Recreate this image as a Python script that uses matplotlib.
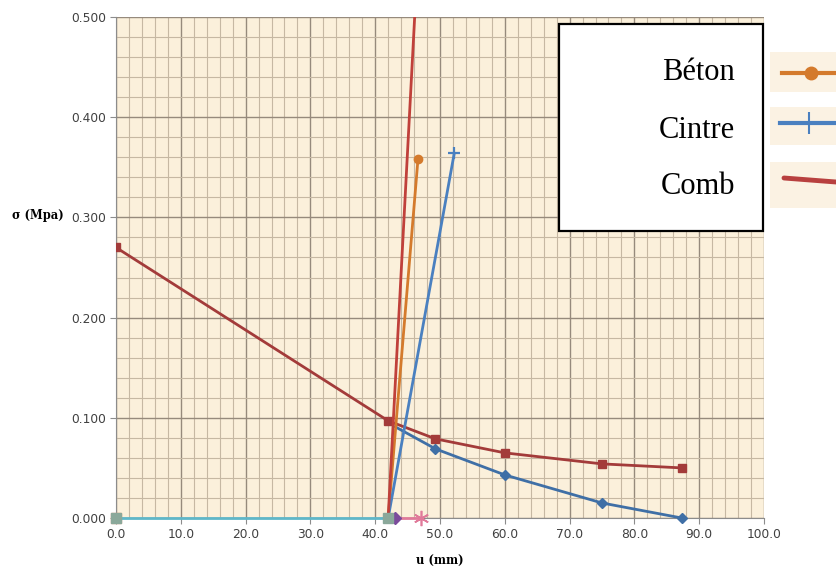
import matplotlib.pyplot as plt
from matplotlib.patches import Rectangle
from matplotlib.lines import Line2D
from matplotlib.ticker import MultipleLocator, FormatStrFormatter

# courbe caracteristique du massif (deux variantes)
u_massif = [0.0, 42.0, 49.3, 60.0, 75.0, 87.3]
s_massif = [0.270, 0.097, 0.079, 0.065, 0.054, 0.050]
u_massif2 = [43.1, 49.3, 60.0, 75.0, 87.3]
s_massif2 = [0.091, 0.069, 0.043, 0.015, 0.000]

# courbes de confinement
u_beton = [42.0, 46.6]
s_beton = [0.000, 0.358]
u_cintre = [42.0, 52.2]
s_cintre = [0.000, 0.364]
u_comb = [42.0, 46.5]
s_comb = [0.000, 0.550]

# points au niveau zero
u_base = [0.0, 42.0]
s_base = [0.0, 0.0]
u_rose = [42.0, 47.0]
s_rose = [0.0, 0.0]
u_violet = [42.0, 43.0]
s_violet = [0.0, 0.0]

legend_labels = ["Béton", "Cintre", "Comb"]

W, H = 836, 569
fig = plt.figure(figsize=(W / 100, H / 100), dpi=100)
fig.patch.set_facecolor("white")

left, right, top, bottom = 116, 764, 17, 518
ax = fig.add_axes([left / W, 1 - bottom / H, (right - left) / W, (bottom - top) / H])
ax.set_facecolor("#fbf0db")

ax.set_xlim(0, 100)
ax.set_ylim(0, 0.5)
ax.xaxis.set_major_locator(MultipleLocator(10))
ax.xaxis.set_minor_locator(MultipleLocator(2))
ax.yaxis.set_major_locator(MultipleLocator(0.1))
ax.yaxis.set_minor_locator(MultipleLocator(0.02))
ax.xaxis.set_major_formatter(FormatStrFormatter("%.1f"))
ax.yaxis.set_major_formatter(FormatStrFormatter("%.3f"))
ax.grid(which="major", color="#968a7c", linewidth=1.0)
ax.grid(which="minor", color="#c6b8a3", linewidth=0.8)
ax.set_axisbelow(True)
for side in ["top", "right"]:
    ax.spines[side].set_visible(False)
for side in ["left", "bottom"]:
    ax.spines[side].set_color("#8c8c8c")
ax.tick_params(which="major", length=4, color="#8c8c8c", labelsize=8.8,
               labelcolor="#404040", pad=3)
ax.tick_params(which="minor", length=0)

lw = 2.0
ax.plot(u_massif, s_massif, color="#a33b3a", lw=lw, marker="s", ms=6, zorder=4)
ax.plot(u_massif2, s_massif2, color="#3f6fa6", lw=lw, marker="D", ms=5.5,
        markevery=[1, 2, 3, 4], zorder=4, clip_on=False)
ax.plot(u_beton, s_beton, color="#d47a2c", lw=lw, marker="o", ms=6,
        markevery=[1], zorder=5)
ax.plot(u_cintre, s_cintre, color="#4a80c0", lw=lw, marker="+", ms=9, mew=1.6,
        markevery=[1], zorder=5)
ax.plot(u_comb, s_comb, color="#c0403a", lw=lw, zorder=5)
ax.plot(u_rose, s_rose, color="#e07a9a", lw=lw, marker=(6, 2, 0), ms=11,
        mew=1.2, markevery=[1], zorder=4, clip_on=False)
ax.plot(u_violet, s_violet, color="#7b4b9b", lw=lw, marker="D", ms=6,
        markevery=[1], zorder=4, clip_on=False)
ax.plot([0.0], [0.0], color="#e8a080", marker="s", ms=7, zorder=5, clip_on=False)
ax.plot(u_base, s_base, color="#5fb7c9", lw=lw, marker="s", ms=7,
        mfc="#8aa89a", mec="#8aa89a", zorder=6, clip_on=False)

# axis titles
fig.text(38 / W, 1 - 215 / H, "σ (Mpa)", family="serif", fontweight="bold",
         fontsize=8.3, ha="center", va="center")
fig.text(440 / W, 1 - 561 / H, "u (mm)", family="serif", fontweight="bold",
         fontsize=8.3, ha="center", va="center")

# legend box drawn over the plot
fig.patches.append(Rectangle((559 / W, 1 - 231 / H), 204 / W, 207 / H,
                             transform=fig.transFigure, facecolor="white",
                             edgecolor="black", linewidth=1.6, zorder=10))
for lab, yc in zip(legend_labels, [73, 130, 187]):
    fig.text(735 / W, 1 - yc / H, lab, family="Liberation Serif", fontsize=22,
             ha="right", va="center", zorder=11)

# line samples on the right
swatch_bg = "#fbf2e3"
for y0, y1 in [(52, 92), (107, 145), (162, 208)]:
    fig.patches.append(Rectangle((770 / W, 1 - y1 / H), 66 / W, (y1 - y0) / H,
                                 transform=fig.transFigure, facecolor=swatch_bg,
                                 edgecolor="none", zorder=10))
fig.lines.append(Line2D([782 / W, 836 / W], [1 - 73 / H, 1 - 73 / H],
                        transform=fig.transFigure, color="#d47a2c", lw=3,
                        zorder=11))
fig.lines.append(Line2D([811 / W], [1 - 73 / H], transform=fig.transFigure,
                        color="#d47a2c", marker="o", ms=9, zorder=12))
fig.lines.append(Line2D([780 / W, 836 / W], [1 - 123 / H, 1 - 123 / H],
                        transform=fig.transFigure, color="#4a80c0", lw=3,
                        zorder=11))
fig.lines.append(Line2D([809 / W], [1 - 123 / H], transform=fig.transFigure,
                        color="#4a80c0", marker="|", ms=16, mew=1.5, zorder=12))
fig.lines.append(Line2D([784 / W, 836 / W], [1 - 178 / H, 1 - 182 / H],
                        transform=fig.transFigure, color="#b8403f", lw=3.5,
                        solid_capstyle="round", zorder=11))

fig.savefig("out.png", dpi=100)
